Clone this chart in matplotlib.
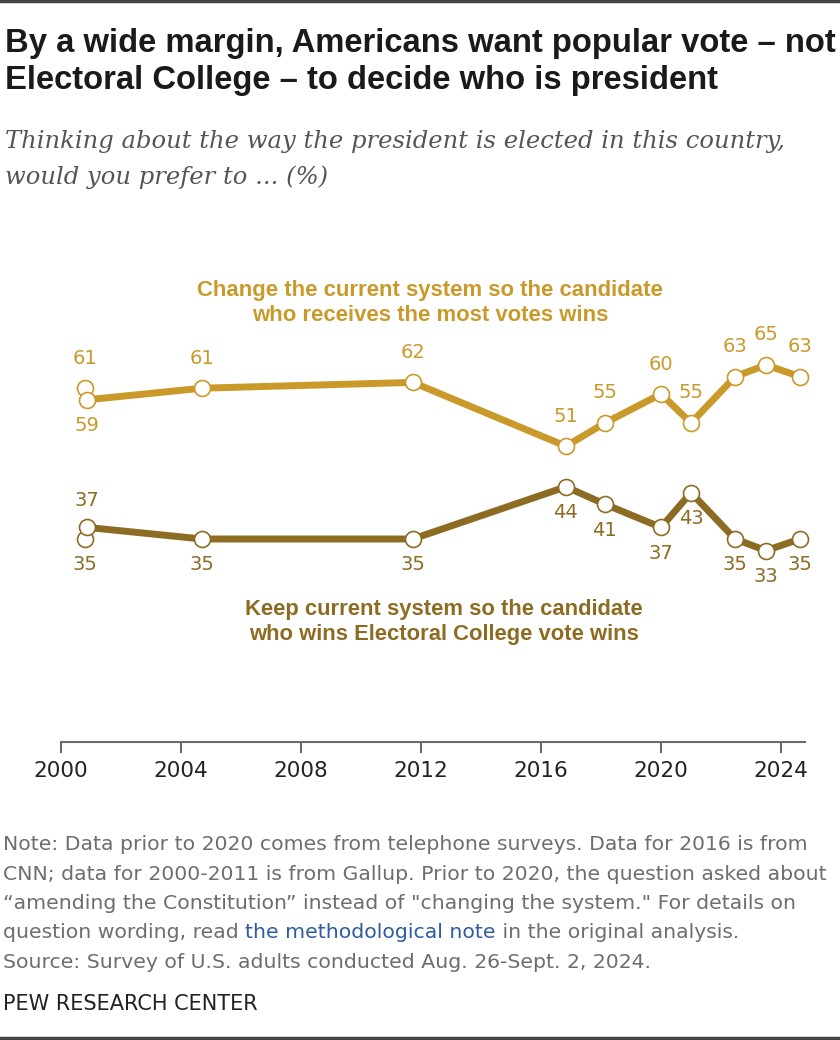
import matplotlib.pyplot as plt

# survey dates (fractional years) and shares
years = [2000.8, 2000.87, 2004.7, 2011.73, 2016.83, 2018.13, 2020.0, 2021.0, 2022.47, 2023.5, 2024.63]
change = [61, 59, 61, 62, 51, 55, 60, 55, 63, 65, 63]
keep = [35, 37, 35, 35, 44, 41, 37, 43, 35, 33, 35]
change_pos = ['up', 'down', 'up', 'up', 'up', 'up', 'up', 'up', 'up', 'up', 'up']
keep_pos = ['down', 'up', 'down', 'down', 'down', 'down', 'down', 'down', 'down', 'down', 'down']
xticks = [2000, 2004, 2008, 2012, 2016, 2020, 2024]

GOLD = '#C99A2A'
BROWN = '#8C6C22'
NOTE = '#6e6e6e'

fig = plt.figure(figsize=(8.4, 10.4), dpi=100)
ax = fig.add_axes([61 / 840, 1 - 742 / 1040, 744 / 840, 580 / 1040])
ax.set_xlim(2000, 2024.8)
ax.set_ylim(0, 100)

for vals, pos, col in [(change, change_pos, GOLD), (keep, keep_pos, BROWN)]:
    ax.plot(years, vals, color=col, lw=5, marker='o', ms=11.5, mfc='white',
            mec=col, mew=1.2, clip_on=False, zorder=3)
    for x, v, p in zip(years, vals, pos):
        dy = 30 if p == 'up' else -26
        if col == BROWN and p == 'up':
            dy = 27
        ax.annotate(str(v), (x, v), xytext=(0, dy), textcoords='offset pixels',
                    ha='center', va='center', color=col, fontsize=14,
                    family='DejaVu Sans')

ax.text(2012.3, 75.7, 'Change the current system so the candidate\nwho receives the most votes wins',
        ha='center', va='center', color=GOLD, fontsize=15.9, fontweight='bold',
        linespacing=1.25, family='Liberation Sans')
ax.text(2012.77, 20.7, 'Keep current system so the candidate\nwho wins Electoral College vote wins',
        ha='center', va='center', color=BROWN, fontsize=15.8, fontweight='bold',
        linespacing=1.25, family='Liberation Sans')

for s in ['top', 'right', 'left']:
    ax.spines[s].set_visible(False)
ax.spines['bottom'].set_color('#6b6b6b')
ax.spines['bottom'].set_linewidth(1.5)
ax.set_yticks([])
ax.set_xticks(xticks)
ax.set_xticklabels([str(t) for t in xticks], family='DejaVu Sans', fontsize=15.5, color='#222222')
ax.tick_params(axis='x', length=8, width=1.5, color='#6b6b6b', pad=6)

# header
fig.add_artist(plt.Line2D([0, 1], [1 - 1 / 1040, 1 - 1 / 1040], color='#444444', lw=2.5))
fig.text(5 / 840, 1 - 52 / 1040, 'By a wide margin, Americans want popular vote \u2013 not',
         ha='left', va='baseline', fontsize=23.6, fontweight='bold', family='Liberation Sans',
         color='#1a1a1a')
fig.text(5 / 840, 1 - 89 / 1040, 'Electoral College \u2013 to decide who is president',
         ha='left', va='baseline', fontsize=23.6, fontweight='bold', family='Liberation Sans',
         color='#1a1a1a')
fig.text(5 / 840, 1 - 148 / 1040, 'Thinking about the way the president is elected in this country,',
         ha='left', va='baseline', fontsize=17.5, style='italic', family='DejaVu Serif',
         color='#555555')
fig.text(5 / 840, 1 - 184 / 1040, 'would you prefer to ... (%)',
         ha='left', va='baseline', fontsize=17.5, style='italic', family='DejaVu Serif',
         color='#555555')

# notes
note_lines = [
    'Note: Data prior to 2020 comes from telephone surveys. Data for 2016 is from',
    'CNN; data for 2000-2011 is from Gallup. Prior to 2020, the question asked about',
    '\u201camending the Constitution\u201d instead of "changing the system." For details on',
]
y0 = 850
for i, line in enumerate(note_lines):
    fig.text(3 / 840, 1 - (y0 + i * 29.5) / 1040, line, ha='left', va='baseline',
             fontsize=14.7, family='DejaVu Sans', color=NOTE)
t1 = fig.text(3 / 840, 1 - (y0 + 3 * 29.5) / 1040, 'question wording, read ', ha='left',
              va='baseline', fontsize=14.7, family='DejaVu Sans', color=NOTE)
t2 = ax.annotate('the methodological note', xy=(1, 0), xycoords=t1, va='bottom', ha='left',
                 fontsize=14.7, family='DejaVu Sans', color='#2F5DA0', annotation_clip=False)
ax.annotate(' in the original analysis.', xy=(1, 0), xycoords=t2, va='bottom', ha='left',
            fontsize=14.7, family='DejaVu Sans', color=NOTE, annotation_clip=False)
fig.text(3 / 840, 1 - (y0 + 4 * 29.5) / 1040, 'Source: Survey of U.S. adults conducted Aug. 26-Sept. 2, 2024.',
         ha='left', va='baseline', fontsize=14.7, family='DejaVu Sans', color=NOTE)
fig.text(3 / 840, 1 - 1010 / 1040, 'PEW RESEARCH CENTER', ha='left', va='baseline',
         fontsize=15, family='DejaVu Sans', color='#222222')
fig.add_artist(plt.Line2D([0, 1], [2 / 1040, 2 / 1040], color='#444444', lw=2.5))

fig.savefig('out.png', dpi=100)
